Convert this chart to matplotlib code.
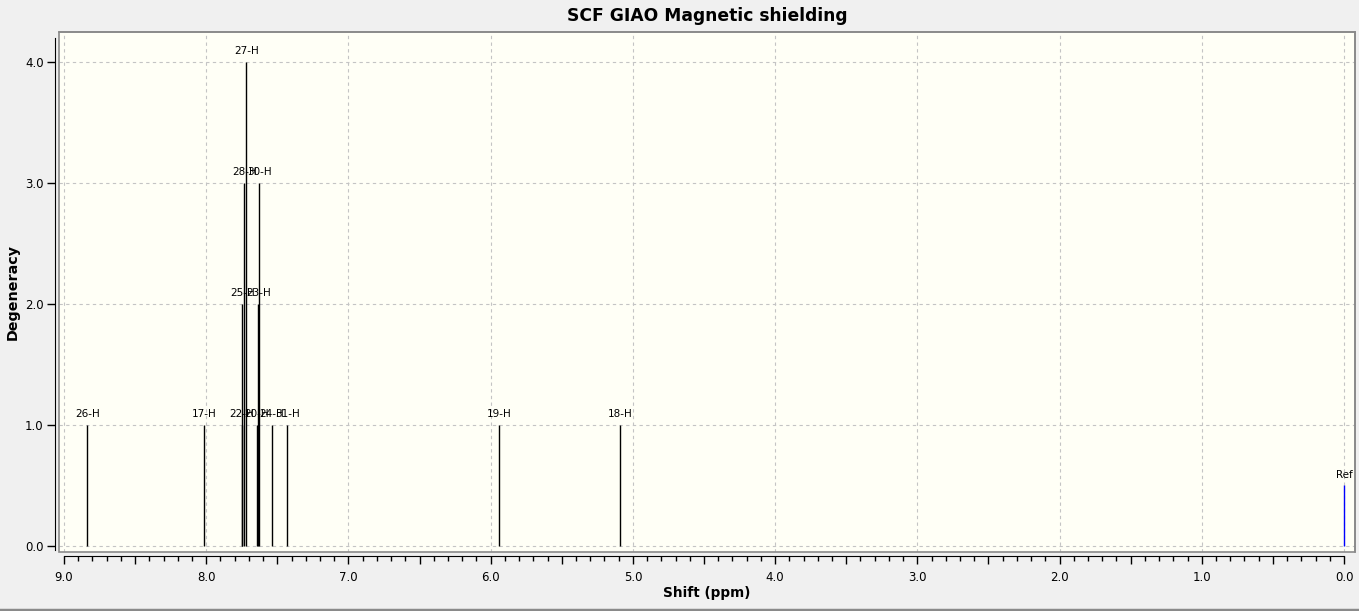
import matplotlib.pyplot as plt
from matplotlib.ticker import MultipleLocator, FuncFormatter
from matplotlib.lines import Line2D

# peak shifts (ppm), degeneracy and atom labels
labels = ['26-H', '17-H', '22-H', '25-H', '28-H', '27-H', '20-H', '23-H', '30-H',
          '24-H', '31-H', '19-H', '18-H']
shifts = [8.836, 8.013, 7.749, 7.746, 7.732, 7.718, 7.645, 7.634, 7.627,
          7.540, 7.430, 5.941, 5.090]
degeneracy = [1, 1, 1, 2, 3, 4, 1, 2, 3, 1, 1, 1, 1]

ref_shift = 0.0
ref_height = 0.5

W, H = 1359, 611
fig = plt.figure(figsize=(W / 100, H / 100), dpi=100, facecolor='#f0f0f0')
ax = fig.add_axes([59 / W, (H - 552) / H, 1296 / W, 520 / H])
ax.set_facecolor('#fffff6')

ax.set_xlim(9.035, -0.077)
ax.set_ylim(-0.05, 4.248)

# dashed grid at whole units
for gx in range(0, 10):
    ax.axvline(gx, color='#c4c4c4', ls=(0, (3, 3)), lw=0.8, zorder=0)
for gy in range(0, 5):
    ax.axhline(gy, color='#c4c4c4', ls=(0, (3, 3)), lw=0.8, zorder=0)

ax.vlines(shifts, 0, degeneracy, color='black', lw=1.0, zorder=3)
for s, d, lab in zip(shifts, degeneracy, labels):
    ax.annotate(lab, (s, d), xytext=(0, 4), textcoords='offset points',
                ha='center', va='bottom', fontsize=7.5, zorder=4)
ax.vlines([ref_shift], 0, [ref_height], color='blue', lw=1.0, zorder=3)
ax.annotate('Ref', (ref_shift, ref_height), xytext=(0, 4), textcoords='offset points',
            ha='center', va='bottom', fontsize=7.5)

# frame around the plot area
for sp in ['top', 'right']:
    ax.spines[sp].set_color('#8a8a8a')
    ax.spines[sp].set_linewidth(1.2)
ax.add_patch(plt.Rectangle((0, 0), 1, 1, transform=ax.transAxes, fill=False,
                           ec='#8a8a8a', lw=1.2, zorder=5, clip_on=False))

# detached axis lines
ax.spines['bottom'].set_position(('outward', 3))
ax.spines['bottom'].set_bounds(9.0, 0.0)
ax.spines['bottom'].set_color('black')
ax.spines['left'].set_position(('outward', 3))
ax.spines['left'].set_bounds(-0.03, 4.2)
ax.spines['left'].set_color('black')

ax.xaxis.set_major_locator(MultipleLocator(0.5))
ax.xaxis.set_minor_locator(MultipleLocator(0.1))
ax.xaxis.set_major_formatter(FuncFormatter(
    lambda v, p: f'{v:.1f}' if abs(v - round(v)) < 1e-6 else ''))
ax.yaxis.set_major_locator(MultipleLocator(1.0))
ax.yaxis.set_major_formatter(FuncFormatter(lambda v, p: f'{v:.1f}'))
ax.tick_params(axis='x', which='major', length=6, width=1, pad=5, labelsize=8.5)
ax.tick_params(axis='x', which='minor', length=3.5, width=1)
ax.tick_params(axis='y', which='major', length=6, width=1, pad=2, labelsize=8.5)

ax.set_title('SCF GIAO Magnetic shielding', fontsize=12.3, fontweight='bold', pad=8)
ax.set_xlabel('Shift (ppm)', fontsize=9.8, fontweight='bold', labelpad=1)
ax.set_ylabel('Degeneracy', fontsize=10.3, fontweight='bold', labelpad=4)

fig.add_artist(Line2D([0, 1], [1.5 / H, 1.5 / H], color='#8a8a8a', lw=2.5,
                      transform=fig.transFigure))

fig.savefig('out.png', dpi=100, facecolor=fig.get_facecolor())
